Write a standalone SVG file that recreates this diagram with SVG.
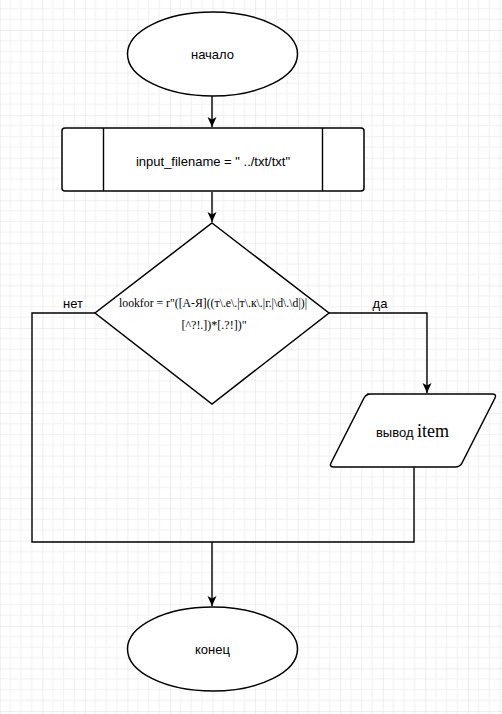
<svg xmlns="http://www.w3.org/2000/svg" width="502" height="714" viewBox="0 0 502 714">
<defs>
<pattern id="grid" patternUnits="userSpaceOnUse" x="-0.26" y="-12.56" width="42.56" height="42.56">
<rect width="42.56" height="42.56" fill="#ffffff"/>
<path d="M10.64 0V42.56M21.28 0V42.56M31.92 0V42.56M0 10.64H42.56M0 21.28H42.56M0 31.92H42.56" stroke="#f1f1f1" stroke-width="1" fill="none"/>
<path d="M0 0V42.56M0 0H42.56" stroke="#dddddd" stroke-width="1" fill="none"/>
</pattern>
<marker id="arr" markerUnits="userSpaceOnUse" markerWidth="11" markerHeight="10" refX="10" refY="4.5" orient="auto">
<path d="M0,0 L10,4.5 L0,9 L2.5,4.5 Z" fill="#000"/>
</marker>
<style>
.shape{fill:#fff;stroke:#000;stroke-width:1.5}
.edge{fill:none;stroke:#000;stroke-width:1.4}
.t{font-family:"Liberation Sans",Arial,sans-serif;font-size:13px;fill:#000}
.s{font-family:"Liberation Serif","Times New Roman",serif;fill:#000}
</style>
</defs>
<rect width="502" height="714" fill="url(#grid)"/>
<g id="connectors">
<path class="edge" d="M212,96V127" marker-end="url(#arr)"/>
<path class="edge" d="M212,192V222" marker-end="url(#arr)"/>
<path class="edge" d="M329,313H427V393" marker-end="url(#arr)"/>
<path class="edge" d="M95,313H32V542H414V467"/>
<path class="edge" d="M212,542V606" marker-end="url(#arr)"/>
<text class="t" x="73" y="308" text-anchor="middle">нет</text>
<text class="t" x="380" y="308" text-anchor="middle">да</text>
</g>
<g id="start">
<ellipse class="shape" cx="212.5" cy="54" rx="85" ry="42"/>
<text class="t" x="212.5" y="59" text-anchor="middle">начало</text>
</g>
<g id="input">
<rect class="shape" x="62" y="128" width="302" height="63" rx="3"/>
<path class="edge" d="M103.5,128V191M322.5,128V191"/>
<text class="t" x="213" y="166" text-anchor="middle">input_filename = " ../txt/txt"</text>
</g>
<g id="decision">
<polygon class="shape" points="212,223 329,313 212,404 95,313"/>
<text class="s" font-size="12" x="119" y="307" textLength="188" lengthAdjust="spacingAndGlyphs">lookfor = r"([А-Я]((т\.е\.|т\.к\.|г.|\d\.\d|)|</text>
<text class="s" font-size="12" x="214" y="329" text-anchor="middle">[^?!.])*[.?!])"</text>
</g>
<g id="output">
<path class="shape" d="M367,394H492Q497,394 495,398L462,463Q460,467 455,467H334Q329,467 331,463L364,398Q366,394 371,394Z"/>
<text x="412.5" y="437" text-anchor="middle"><tspan class="t">вывод </tspan><tspan class="s" font-size="18">item</tspan></text>
</g>
<g id="end">
<ellipse class="shape" cx="212.5" cy="649" rx="85" ry="42"/>
<text class="t" x="212.5" y="654" text-anchor="middle">конец</text>
</g>
</svg>
